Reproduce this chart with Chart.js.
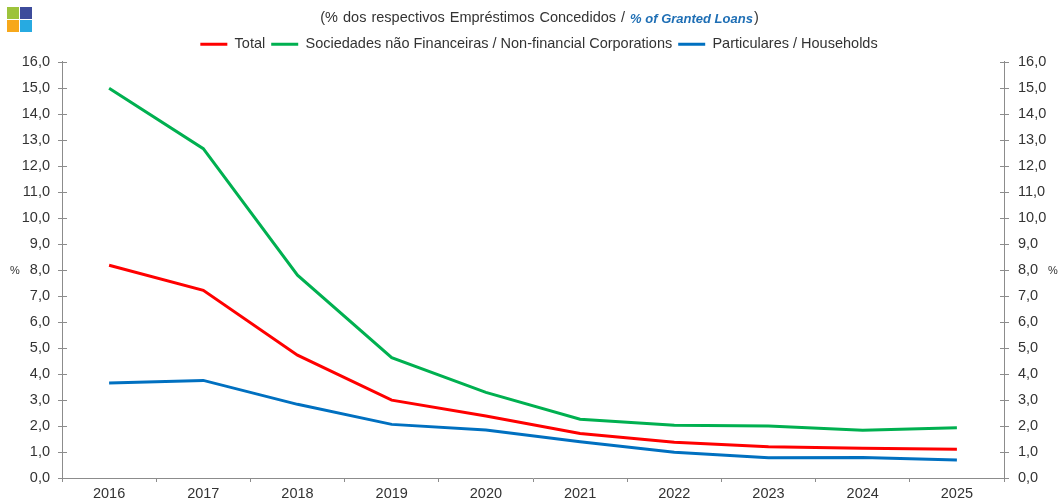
<!DOCTYPE html>
<html>
<head>
<meta charset="utf-8">
<script src="https://cdn.jsdelivr.net/npm/chart.js@4.4.1/dist/chart.umd.min.js"></script>
<style>
  html, body { margin: 0; padding: 0; background: #fff; }
  #wrap { width: 1060px; height: 502px; position: relative; }
</style>
</head>
<body>
<div id="wrap"><canvas id="chart" width="1060" height="502"></canvas></div>
<script>
// data
var years = ['2016', '2017', '2018', '2019', '2020', '2021', '2022', '2023', '2024', '2025'];
var total = [8.17, 7.21, 4.72, 2.99, 2.38, 1.71, 1.37, 1.20, 1.14, 1.10];
var corporations = [14.97, 12.65, 7.79, 4.62, 3.29, 2.26, 2.03, 2.00, 1.83, 1.93];
var households = [3.65, 3.75, 2.83, 2.06, 1.84, 1.39, 0.99, 0.78, 0.79, 0.69];
var seriesNames = ['Total', 'Sociedades não Financeiras / Non-financial Corporations', 'Particulares / Households'];

var axisColor = '#8c8c8c';
var textColor = '#333333';
var font = 'Liberation Sans, Arial, sans-serif';

function fmt(v) { return Number(v).toFixed(1).replace('.', ','); }

// logo, title, "%" labels and crossing ticks on the value axes
var extras = {
  id: 'extras',
  afterDraw: function(chart) {
    var ctx = chart.ctx;
    ctx.save();
    // logo
    ctx.fillStyle = '#9dc33b'; ctx.fillRect(7, 7, 12, 12);
    ctx.fillStyle = '#3d4b9b'; ctx.fillRect(20, 7, 12, 12);
    ctx.fillStyle = '#f7a81b'; ctx.fillRect(7, 20, 12, 12);
    ctx.fillStyle = '#27aae1'; ctx.fillRect(20, 20, 12, 12);

    // title with mixed styles
    var p1 = '(% dos respectivos Empréstimos Concedidos / ';
    var p2 = '% of Granted Loans';
    var p3 = ')';
    var plain = '14.5px ' + font;
    var blue = 'italic bold 13px ' + font;
    ctx.textBaseline = 'middle';
    ctx.textAlign = 'left';
    ctx.font = plain;
    ctx.wordSpacing = '1px';
    var w1 = ctx.measureText(p1).width;
    var w3 = ctx.measureText(p3).width;
    ctx.font = blue;
    ctx.wordSpacing = '0px';
    var w2 = ctx.measureText(p2).width;
    var x = 539 - (w1 + w2 + w3) / 2;
    ctx.font = plain;
    ctx.wordSpacing = '1px';
    ctx.fillStyle = textColor;
    ctx.fillText(p1, x, 18);
    ctx.wordSpacing = '0px';
    ctx.font = blue;
    ctx.fillStyle = '#1f6fb5';
    ctx.fillText(p2, x + w1, 19);
    ctx.font = plain;
    ctx.fillStyle = textColor;
    ctx.fillText(p3, x + w1 + w2 + 1, 18);

    // % labels
    ctx.font = '11px ' + font;
    ctx.textAlign = 'center';
    ctx.fillText('%', 15, 271);
    ctx.fillText('%', 1053, 271);

    // tick marks crossing the value axes
    ctx.strokeStyle = axisColor;
    ctx.lineWidth = 1;
    ['y', 'y2'].forEach(function(id) {
      var s = chart.scales[id];
      var ax = id === 'y' ? s.right : s.left;
      s.ticks.forEach(function(t) {
        var py = Math.round(s.getPixelForValue(t.value)) + 0.5;
        ctx.beginPath();
        ctx.moveTo(ax - 4, py);
        ctx.lineTo(ax + 5, py);
        ctx.stroke();
      });
    });
    ctx.restore();
  }
};

var yTicks = {
  color: textColor,
  font: { family: font, size: 14.5 },
  stepSize: 1,
  callback: function(v) { return fmt(v); }
};

new Chart(document.getElementById('chart'), {
  type: 'line',
  data: {
    labels: years,
    datasets: [
      { label: seriesNames[0], data: total, borderColor: '#ff0000', backgroundColor: '#ff0000' },
      { label: seriesNames[1], data: corporations, borderColor: '#00b050', backgroundColor: '#00b050' },
      { label: seriesNames[2], data: households, borderColor: '#0070c0', backgroundColor: '#0070c0' }
    ]
  },
  options: {
    responsive: false,
    animation: false,
    layout: { padding: { top: 31, left: 18, right: 0, bottom: 0 } },
    elements: {
      line: { borderWidth: 3, tension: 0 },
      point: { radius: 0, hoverRadius: 0 }
    },
    plugins: {
      legend: {
        position: 'top',
        labels: {
          color: textColor,
          font: { family: font, size: 14.5 },
          boxWidth: 27,
          boxHeight: 3,
          padding: 6,
          generateLabels: function(chart) {
            return Chart.defaults.plugins.legend.labels.generateLabels(chart).map(function(l) {
              l.lineWidth = 0;
              return l;
            });
          }
        }
      },
      tooltip: { enabled: false }
    },
    scales: {
      x: {
        offset: true,
        grid: { display: true, drawOnChartArea: false, offset: true, tickLength: 4, color: axisColor },
        border: { color: axisColor },
        ticks: { color: textColor, font: { family: font, size: 14.5 }, padding: 3, maxRotation: 0 },
        afterFit: function(s) { s.height = 24; }
      },
      y: {
        position: 'left',
        min: 0, max: 16,
        grid: { display: false, drawTicks: false },
        border: { color: axisColor },
        ticks: Object.assign({ padding: 12 }, yTicks),
        afterFit: function(s) { s.width = 44; }
      },
      y2: {
        position: 'right',
        min: 0, max: 16,
        grid: { display: false, drawTicks: false },
        border: { color: axisColor },
        ticks: Object.assign({ padding: 14 }, yTicks),
        afterFit: function(s) { s.width = 56; }
      }
    }
  },
  plugins: [extras]
});
</script>
</body>
</html>
